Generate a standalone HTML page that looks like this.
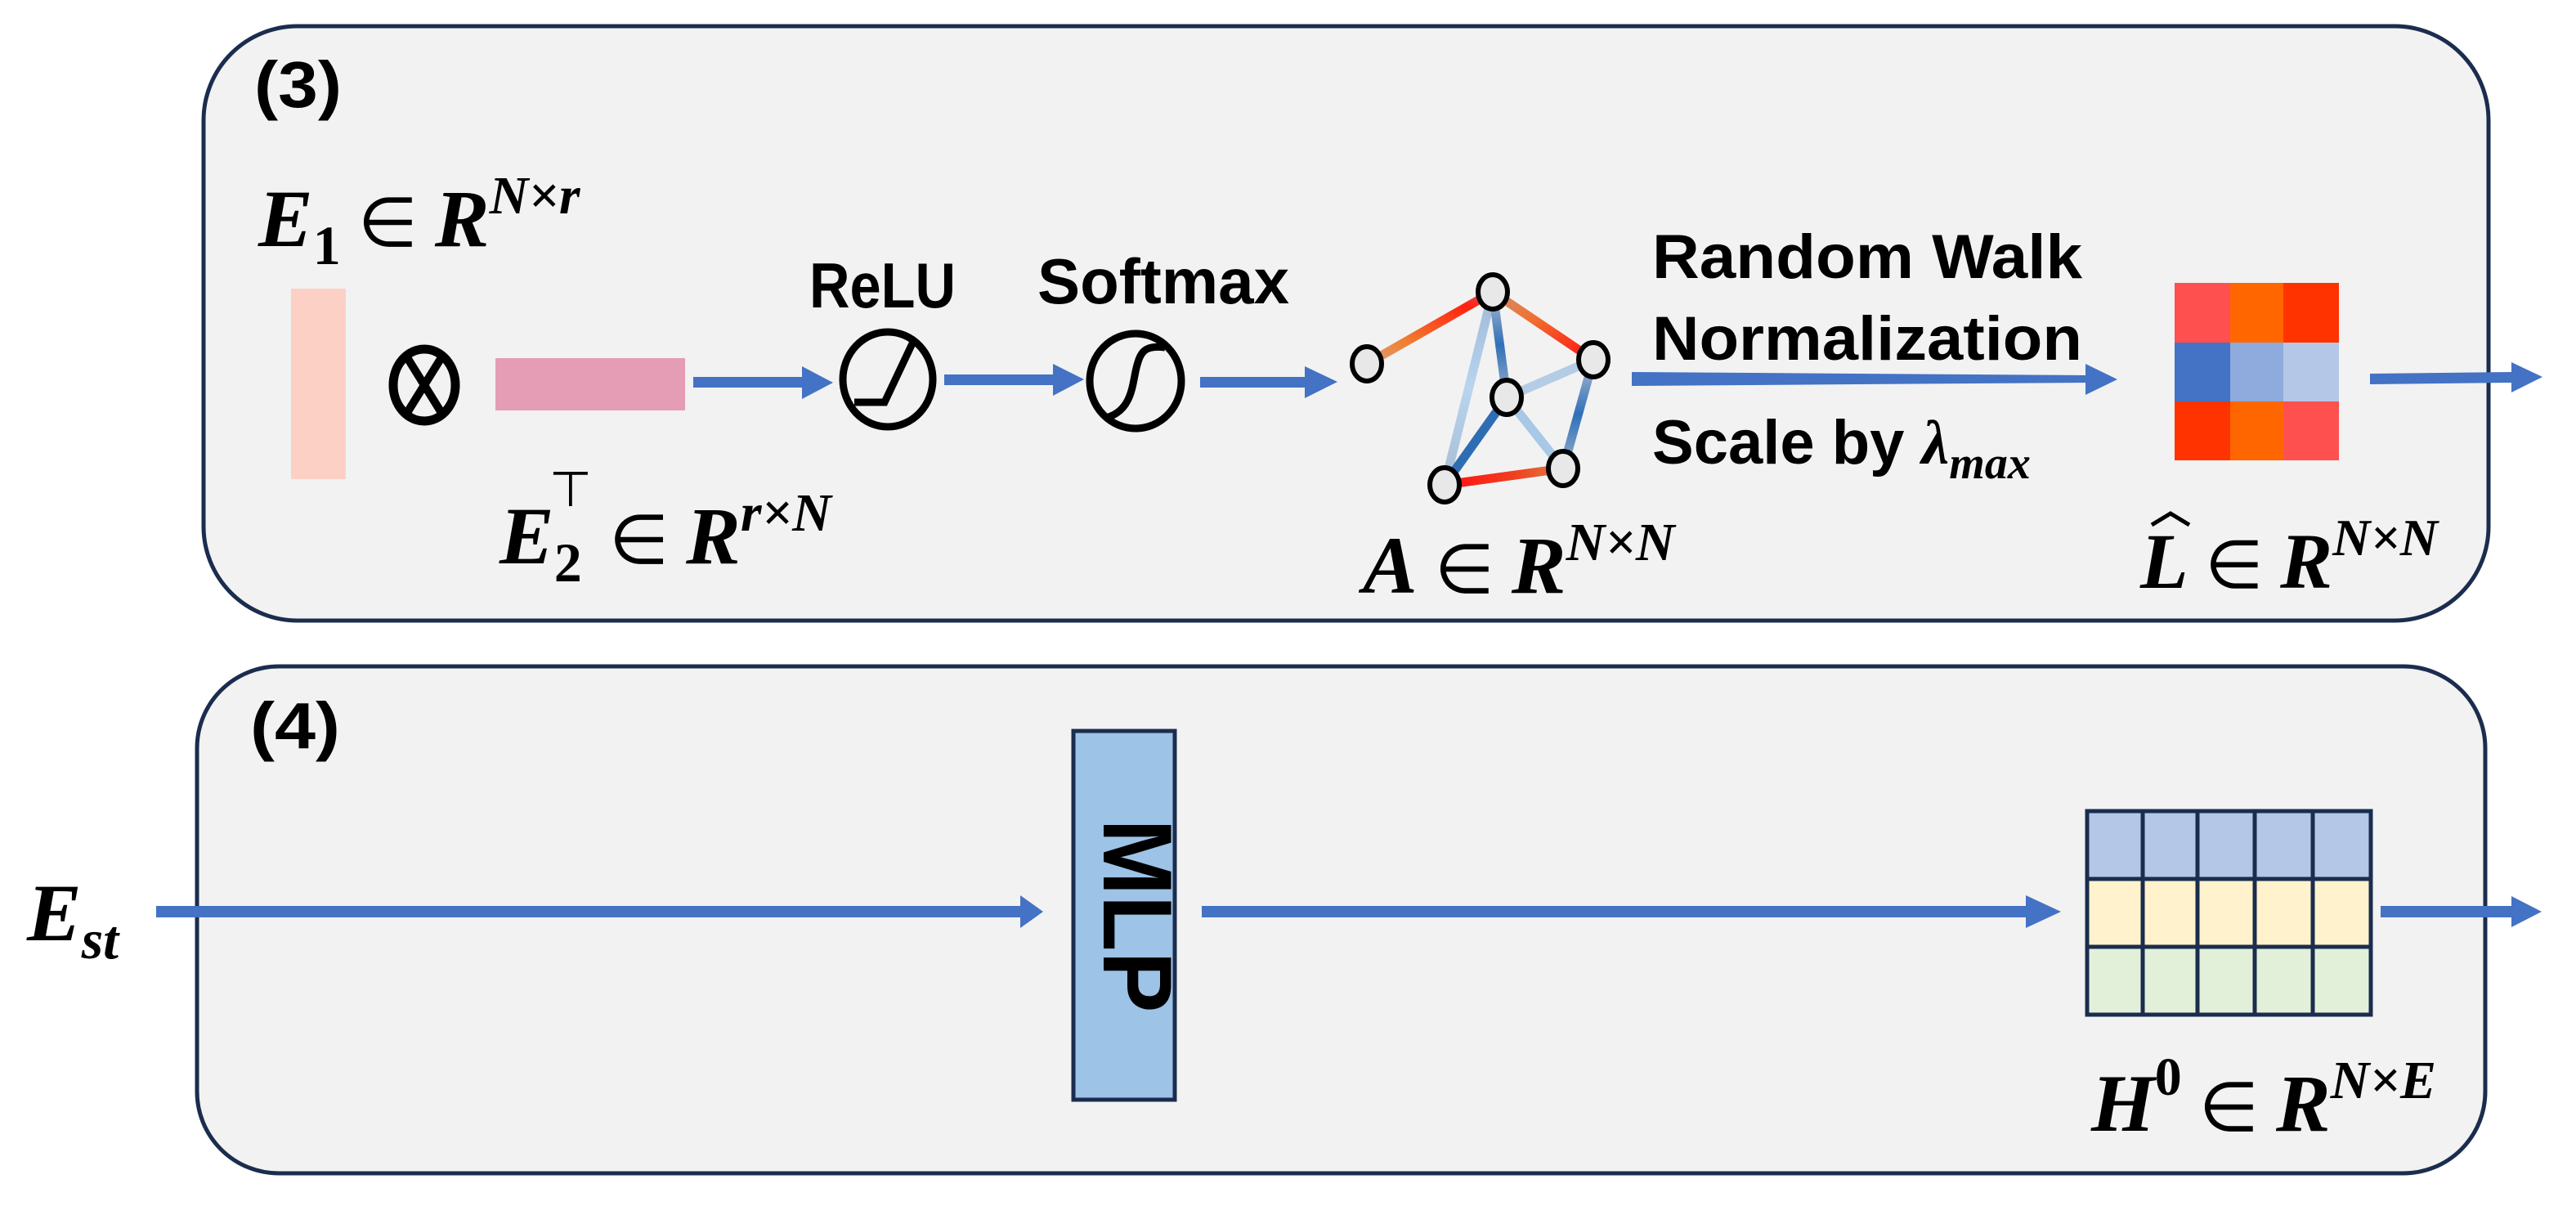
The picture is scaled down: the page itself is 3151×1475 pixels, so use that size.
<!DOCTYPE html>
<html><head><meta charset="utf-8"><style>
html,body{margin:0;padding:0;background:#fff;}
svg{display:block;}
.m{font-family:"Liberation Serif",serif;font-weight:bold;font-style:italic;}
.s{font-family:"Liberation Sans",sans-serif;font-weight:bold;}
</style></head><body>
<svg width="3151" height="1475" viewBox="0 0 3151 1475" xmlns="http://www.w3.org/2000/svg">
<defs>
<linearGradient id="g12" x1="0" y1="1" x2="1" y2="0"><stop offset="0" stop-color="#d9a080"/><stop offset="0.3" stop-color="#f08030"/><stop offset="0.8" stop-color="#ff2010"/><stop offset="1" stop-color="#d06060"/></linearGradient>
<linearGradient id="g23" x1="0" y1="0" x2="1" y2="1"><stop offset="0" stop-color="#d09070"/><stop offset="0.4" stop-color="#f07030"/><stop offset="1" stop-color="#ff1010"/></linearGradient>
<linearGradient id="g56" x1="0" y1="0" x2="1" y2="0"><stop offset="0" stop-color="#ff1010"/><stop offset="0.6" stop-color="#f04020"/><stop offset="1" stop-color="#e08040"/></linearGradient>
<linearGradient id="gb" x1="0" y1="0" x2="0" y2="1"><stop offset="0" stop-color="#b0bcd0"/><stop offset="0.5" stop-color="#3070b8"/><stop offset="1" stop-color="#9ab0cc"/></linearGradient>
<linearGradient id="gl" x1="0" y1="0" x2="0" y2="1"><stop offset="0" stop-color="#a0b8d8"/><stop offset="0.5" stop-color="#b8d4ee"/><stop offset="1" stop-color="#a8bcd4"/></linearGradient>
</defs>

<rect x="249" y="32" width="2795" height="727" rx="115" ry="115" fill="#f2f2f2" stroke="#1b2d4e" stroke-width="5"/>
<rect x="241" y="815" width="2799" height="620" rx="100" ry="100" fill="#f2f2f2" stroke="#1b2d4e" stroke-width="5"/>

<text class="s" x="311" y="131" font-size="80" textLength="107" lengthAdjust="spacingAndGlyphs">(3)</text>
<text class="s" x="306" y="915" font-size="80" textLength="110" lengthAdjust="spacingAndGlyphs">(4)</text>

<text class="m" x="316" y="301" font-size="100">E<tspan font-style="normal" font-size="68" dy="22">1</tspan><tspan font-style="normal" font-weight="normal" font-size="84" dy="-22"> ∈ </tspan>R<tspan font-size="66" dy="-40">N×r</tspan></text>
<rect x="356" y="353" width="67" height="233" fill="#fdd0c6"/>
<ellipse cx="519" cy="471" rx="38" ry="44" fill="none" stroke="#000" stroke-width="11"/>
<line x1="496" y1="434" x2="542" y2="508" stroke="#000" stroke-width="10"/>
<line x1="542" y1="434" x2="496" y2="508" stroke="#000" stroke-width="10"/>
<rect x="606" y="438" width="232" height="64" fill="#e49db5"/>
<text class="m" x="611" y="689" font-size="100">E<tspan font-style="normal" font-size="68" dy="22">2</tspan><tspan font-style="normal" font-weight="normal" font-family="Liberation Sans" font-size="60" dx="-40" dy="-92">⊤</tspan><tspan font-style="normal" font-weight="normal" font-size="84" dy="70"> ∈ </tspan>R<tspan font-size="66" dy="-40">r×N</tspan></text>

<g fill="#4472c4">
<rect x="848" y="461" width="135" height="13"/><polygon points="981,448 1019,468 981,488"/>
<rect x="1155" y="458" width="135" height="13"/><polygon points="1288,445 1326,464 1288,484"/>
<rect x="1468" y="461" width="130" height="13"/><polygon points="1596,448 1636,467 1596,487"/>
<polygon points="1996,455 2552,459 2552,468 1996,472"/><polygon points="2551,445 2590,464 2551,483"/>
<polygon points="2899,457 3072,455 3072,468 2899,470"/><polygon points="3072,443 3110,461 3072,480"/>
</g>

<text class="s" x="990" y="376" font-size="78" textLength="179" lengthAdjust="spacingAndGlyphs">ReLU</text>
<ellipse cx="1086" cy="464" rx="55" ry="58" fill="none" stroke="#000" stroke-width="9"/>
<polyline points="1045,492 1082,492 1116,420" fill="none" stroke="#000" stroke-width="9"/>
<text class="s" x="1269" y="371" font-size="78" textLength="308" lengthAdjust="spacingAndGlyphs">Softmax</text>
<ellipse cx="1389" cy="466" rx="56" ry="58" fill="none" stroke="#000" stroke-width="9"/>
<path d="M1356,510 C1385,500 1385,470 1390,450 C1395,430 1400,422 1425,425" fill="none" stroke="#000" stroke-width="9"/>

<g stroke-width="11" stroke-linecap="round">
<line x1="1672" y1="445" x2="1826" y2="357" stroke="url(#g12)"/>
<line x1="1826" y1="357" x2="1949" y2="440" stroke="url(#g23)"/>
<line x1="1826" y1="357" x2="1767" y2="593" stroke="url(#gl)"/>
<line x1="1826" y1="357" x2="1843" y2="486" stroke="url(#gb)"/>
<line x1="1949" y1="440" x2="1843" y2="486" stroke="#b4cce6"/>
<line x1="1949" y1="440" x2="1912" y2="573" stroke="url(#gb)"/>
<line x1="1843" y1="486" x2="1767" y2="593" stroke="#2e6db4"/>
<line x1="1843" y1="486" x2="1912" y2="573" stroke="#a8c8e6"/>
<line x1="1767" y1="593" x2="1912" y2="573" stroke="url(#g56)"/>
</g>
<g fill="#e8e8e8" stroke="#000" stroke-width="6">
<ellipse cx="1672" cy="445" rx="18" ry="21"/>
<ellipse cx="1826" cy="357" rx="18" ry="21"/>
<ellipse cx="1949" cy="440" rx="18" ry="21"/>
<ellipse cx="1843" cy="486" rx="18" ry="21"/>
<ellipse cx="1767" cy="593" rx="18" ry="21"/>
<ellipse cx="1912" cy="573" rx="18" ry="21"/>
</g>
<text class="m" x="1667" y="725" font-size="100">A<tspan font-style="normal" font-weight="normal" font-size="84"> ∈ </tspan>R<tspan font-size="66" dy="-40">N×N</tspan></text>

<text class="s" x="2021" y="340" font-size="76" textLength="526" lengthAdjust="spacingAndGlyphs">Random Walk</text>
<text class="s" x="2021" y="440" font-size="76" textLength="526" lengthAdjust="spacingAndGlyphs">Normalization</text>
<text class="s" x="2021" y="567" font-size="76">Scale by <tspan class="m" font-family="Liberation Serif">λ</tspan><tspan class="m" font-family="Liberation Serif" font-size="56" dy="18">max</tspan></text>

<rect x="2660" y="346" width="68" height="73" fill="#ff5050"/>
<rect x="2728" y="346" width="65" height="73" fill="#ff6600"/>
<rect x="2793" y="346" width="68" height="73" fill="#ff3300"/>
<rect x="2660" y="419" width="68" height="72" fill="#4472c4"/>
<rect x="2728" y="419" width="65" height="72" fill="#8faadc"/>
<rect x="2793" y="419" width="68" height="72" fill="#b4c7e7"/>
<rect x="2660" y="491" width="68" height="72" fill="#ff3300"/>
<rect x="2728" y="491" width="65" height="72" fill="#ff6600"/>
<rect x="2793" y="491" width="68" height="72" fill="#ff5050"/>
<text class="m" x="2618" y="719" font-size="96">L<tspan font-style="normal" font-weight="normal" font-size="82"> ∈ </tspan>R<tspan font-size="64" dy="-40">N×N</tspan></text>
<polyline points="2632,642 2655,628 2678,642" fill="none" stroke="#000" stroke-width="5"/>

<text class="m" x="33" y="1150" font-size="100">E<tspan font-size="68" dy="22">st</tspan></text>
<g fill="#4472c4">
<rect x="191" y="1108" width="1060" height="14"/><polygon points="1248,1095 1276,1115 1248,1135"/>
<rect x="1470" y="1108" width="1010" height="14"/><polygon points="2478,1095 2521,1115 2478,1135"/>
<rect x="2912" y="1108" width="160" height="14"/><polygon points="3072,1096 3109,1115 3072,1134"/>
</g>
<rect x="1313" y="894" width="124" height="451" fill="#9dc3e6" stroke="#1b2d4e" stroke-width="5"/>
<text class="s" transform="translate(1350,1120) rotate(90)" x="0" y="0" text-anchor="middle" font-size="120" textLength="237" lengthAdjust="spacingAndGlyphs">MLP</text>

<g stroke="#1b2d4e" stroke-width="5">
<rect x="2553" y="992" width="347" height="83" fill="#b4c7e7"/>
<rect x="2553" y="1075" width="347" height="83" fill="#fff2cc"/>
<rect x="2553" y="1158" width="347" height="83" fill="#e2f0d9"/>
<line x1="2621" y1="992" x2="2621" y2="1241"/>
<line x1="2688" y1="992" x2="2688" y2="1241"/>
<line x1="2758" y1="992" x2="2758" y2="1241"/>
<line x1="2829" y1="992" x2="2829" y2="1241"/>
</g>
<text class="m" x="2558" y="1383" font-size="100">H<tspan font-style="normal" font-size="66" dy="-44">0</tspan><tspan font-style="normal" font-weight="normal" font-size="84" dy="44"> ∈ </tspan>R<tspan font-size="66" dy="-40">N×E</tspan></text>
</svg>
</body></html>
